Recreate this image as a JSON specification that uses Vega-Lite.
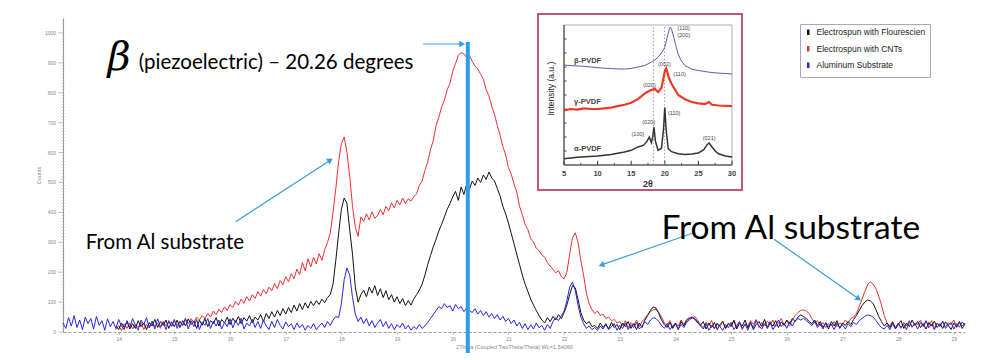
{
  "$schema": "https://vega.github.io/schema/vega-lite/v6.json",
  "width": 902,
  "height": 314,
  "autosize": {"type": "none"},
  "padding": {"left": 63, "top": 18, "right": 35, "bottom": 28},
  "background": "white",
  "config": {"view": {"stroke": null}, "font": "Liberation Sans"},
  "datasets": {
    "xrd": [
      {"x":13.00,"b":30},{"x":13.05,"b":12},{"x":13.10,"b":48},{"x":13.15,"b":20},{"x":13.20,"b":55},{"x":13.25,"b":15},{"x":13.30,"b":40},{"x":13.35,"b":8},{"x":13.40,"b":50},{"x":13.45,"b":28},{"x":13.50,"b":45},{"x":13.55,"b":10},{"x":13.60,"b":52},{"x":13.65,"b":22},{"x":13.70,"b":38},{"x":13.75,"b":6},{"x":13.80,"b":44},{"x":13.85,"b":18},{"x":13.90,"b":35},
      {"x":13.95,"b":12,"k":20,"r":8},{"x":14.00,"b":42,"k":8,"r":22},{"x":14.05,"b":20,"k":30,"r":5},{"x":14.10,"b":8,"k":15,"r":28},{"x":14.15,"b":38,"k":35,"r":12},{"x":14.20,"b":15,"k":10,"r":30},{"x":14.25,"b":45,"k":28,"r":10},{"x":14.30,"b":22,"k":12,"r":25},{"x":14.35,"b":6,"k":38,"r":15},{"x":14.40,"b":40,"k":18,"r":32},{"x":14.45,"b":25,"k":30,"r":8},{"x":14.50,"b":48,"k":8,"r":26},{"x":14.55,"b":14,"k":32,"r":14},{"x":14.60,"b":36,"k":20,"r":35},{"x":14.65,"b":10,"k":42,"r":18},{"x":14.70,"b":44,"k":15,"r":30},{"x":14.75,"b":18,"k":35,"r":12},{"x":14.80,"b":32,"k":22,"r":36},{"x":14.85,"b":8,"k":40,"r":20},{"x":14.90,"b":38,"k":12,"r":34},{"x":14.95,"b":20,"k":34,"r":18},
      {"x":15.00,"b":42,"k":18,"r":38},{"x":15.05,"b":12,"k":40,"r":22},{"x":15.10,"b":35,"k":15,"r":36},{"x":15.15,"b":24,"k":38,"r":20},{"x":15.20,"b":46,"k":20,"r":42},{"x":15.25,"b":10,"k":44,"r":28},{"x":15.30,"b":38,"k":25,"r":45},{"x":15.35,"b":18,"k":36,"r":32},{"x":15.40,"b":42,"k":12,"r":50},{"x":15.45,"b":8,"k":40,"r":40},{"x":15.50,"b":34,"k":22,"r":55},{"x":15.55,"b":22,"k":45,"r":45},{"x":15.60,"b":45,"k":18,"r":62},{"x":15.65,"b":12,"k":38,"r":50},{"x":15.70,"b":36,"k":28,"r":70},{"x":15.75,"b":20,"k":48,"r":58},{"x":15.80,"b":40,"k":20,"r":76},{"x":15.85,"b":10,"k":42,"r":65},{"x":15.90,"b":32,"k":30,"r":84},{"x":15.95,"b":18,"k":50,"r":72},
      {"x":16.00,"b":44,"k":25,"r":92},{"x":16.05,"b":14,"k":46,"r":82},{"x":16.10,"b":38,"k":32,"r":102},{"x":16.15,"b":22,"k":52,"r":90},{"x":16.20,"b":46,"k":28,"r":110},{"x":16.25,"b":10,"k":48,"r":96},{"x":16.30,"b":30,"k":36,"r":118},{"x":16.35,"b":20,"k":55,"r":104},{"x":16.40,"b":42,"k":30,"r":125},{"x":16.45,"b":15,"k":50,"r":112},
      {"x":16.50,"b":35,"k":40,"r":135},{"x":16.55,"b":12,"k":58,"r":120},{"x":16.60,"b":40,"k":35,"r":142},{"x":16.65,"b":20,"k":62,"r":128},{"x":16.70,"b":8,"k":45,"r":150},{"x":16.75,"b":36,"k":68,"r":138},{"x":16.80,"b":15,"k":50,"r":162},{"x":16.85,"b":42,"k":72,"r":145},{"x":16.90,"b":22,"k":55,"r":172},{"x":16.95,"b":10,"k":78,"r":158},
      {"x":17.00,"b":34,"k":60,"r":185},{"x":17.05,"b":18,"k":82,"r":168},{"x":17.10,"b":28,"k":65,"r":195},{"x":17.15,"b":8,"k":90,"r":178},{"x":17.20,"b":30,"k":70,"r":210},{"x":17.25,"b":14,"k":95,"r":192},{"x":17.30,"b":25,"k":75,"r":232},{"x":17.35,"b":6,"k":98,"r":205},{"x":17.40,"b":22,"k":80,"r":245},{"x":17.45,"b":12,"k":102,"r":218},{"x":17.50,"b":28,"k":88,"r":250},{"x":17.55,"b":8,"k":105,"r":228},{"x":17.60,"b":20,"k":92,"r":262},{"x":17.65,"b":30,"k":110,"r":240},{"x":17.70,"b":15,"k":98,"r":275},{"x":17.75,"b":35,"k":115,"r":300},{"x":17.80,"b":22,"k":125,"r":330},{"x":17.85,"b":40,"k":160,"r":400},{"x":17.90,"b":52,"k":240,"r":480},{"x":17.95,"b":48,"k":330,"r":570},
      {"x":18.00,"b":95,"k":410,"r":630},{"x":18.05,"b":175,"k":448,"r":652},{"x":18.10,"b":214,"k":430,"r":600},{"x":18.15,"b":190,"k":340,"r":520},{"x":18.20,"b":115,"k":260,"r":420},{"x":18.25,"b":60,"k":150,"r":350},{"x":18.30,"b":35,"k":100,"r":320},{"x":18.35,"b":50,"k":125,"r":385},{"x":18.40,"b":28,"k":140,"r":370},{"x":18.45,"b":45,"k":118,"r":395},{"x":18.50,"b":20,"k":150,"r":375},{"x":18.55,"b":38,"k":130,"r":402},{"x":18.60,"b":15,"k":155,"r":380},{"x":18.65,"b":30,"k":122,"r":390},{"x":18.70,"b":42,"k":145,"r":410},{"x":18.75,"b":18,"k":115,"r":392},{"x":18.80,"b":35,"k":138,"r":420},{"x":18.85,"b":12,"k":108,"r":405},{"x":18.90,"b":28,"k":125,"r":432},{"x":18.95,"b":8,"k":100,"r":415},
      {"x":19.00,"b":25,"k":118,"r":440},{"x":19.05,"b":15,"k":95,"r":425},{"x":19.10,"b":30,"k":112,"r":448},{"x":19.15,"b":10,"k":88,"r":430},{"x":19.20,"b":22,"k":105,"r":445},{"x":19.25,"b":6,"k":90,"r":438},{"x":19.30,"b":18,"k":110,"r":452},{"x":19.35,"b":10,"k":125,"r":462},{"x":19.40,"b":25,"k":140,"r":490},{"x":19.45,"b":12,"k":160,"r":505},{"x":19.50,"b":20,"k":190,"r":540},{"x":19.55,"b":32,"k":225,"r":568},{"x":19.60,"b":45,"k":255,"r":610},{"x":19.65,"b":58,"k":285,"r":640},{"x":19.70,"b":72,"k":310,"r":690},{"x":19.75,"b":85,"k":338,"r":718},{"x":19.80,"b":78,"k":360,"r":752},{"x":19.85,"b":95,"k":385,"r":775},{"x":19.90,"b":82,"k":410,"r":810},{"x":19.95,"b":88,"k":430,"r":832},
      {"x":20.00,"b":70,"k":452,"r":872},{"x":20.05,"b":92,"k":470,"r":898},{"x":20.10,"b":78,"k":440,"r":925},{"x":20.15,"b":85,"k":485,"r":935},{"x":20.20,"b":68,"k":460,"r":930},{"x":20.25,"b":80,"k":495,"r":918},{"x":20.30,"b":72,"k":478,"r":925},{"x":20.35,"b":65,"k":505,"r":905},{"x":20.40,"b":78,"k":490,"r":890},{"x":20.45,"b":60,"k":515,"r":880},{"x":20.50,"b":72,"k":500,"r":862},{"x":20.55,"b":55,"k":525,"r":845},{"x":20.60,"b":68,"k":510,"r":810},{"x":20.65,"b":50,"k":535,"r":790},{"x":20.70,"b":62,"k":515,"r":755},{"x":20.75,"b":45,"k":505,"r":728},{"x":20.80,"b":58,"k":480,"r":690},{"x":20.85,"b":40,"k":455,"r":658},{"x":20.90,"b":52,"k":420,"r":620},{"x":20.95,"b":35,"k":395,"r":592},
      {"x":21.00,"b":45,"k":365,"r":550},{"x":21.05,"b":28,"k":330,"r":528},{"x":21.10,"b":40,"k":295,"r":495},{"x":21.15,"b":20,"k":260,"r":468},{"x":21.20,"b":32,"k":225,"r":420},{"x":21.25,"b":12,"k":190,"r":392},{"x":21.30,"b":28,"k":160,"r":360},{"x":21.35,"b":8,"k":135,"r":342},{"x":21.40,"b":24,"k":110,"r":312},{"x":21.45,"b":10,"k":90,"r":300},{"x":21.50,"b":30,"k":72,"r":280},{"x":21.55,"b":14,"k":55,"r":272},{"x":21.60,"b":22,"k":40,"r":258},{"x":21.65,"b":6,"k":30,"r":250},{"x":21.70,"b":25,"k":48,"r":232},{"x":21.75,"b":12,"k":35,"r":220},{"x":21.80,"b":35,"k":52,"r":210},{"x":21.85,"b":48,"k":40,"r":198},{"x":21.90,"b":38,"k":58,"r":205},{"x":21.95,"b":55,"k":45,"r":185},
      {"x":22.00,"b":70,"k":65,"r":178},{"x":22.05,"b":105,"k":90,"r":200},{"x":22.10,"b":150,"k":125,"r":260},{"x":22.15,"b":167,"k":155,"r":315},{"x":22.20,"b":140,"k":148,"r":332},{"x":22.25,"b":90,"k":110,"r":300},{"x":22.30,"b":50,"k":65,"r":240},{"x":22.35,"b":28,"k":40,"r":190},{"x":22.40,"b":12,"k":28,"r":130},{"x":22.45,"b":20,"k":35,"r":95},{"x":22.50,"b":8,"k":18,"r":75},
      {"x":22.55,"b":15,"k":22,"r":62},{"x":22.60,"b":5,"k":12,"r":70},{"x":22.65,"b":20,"k":30,"r":55},{"x":22.70,"b":10,"k":15,"r":60},{"x":22.75,"b":25,"k":28,"r":45},{"x":22.80,"b":8,"k":10,"r":50},{"x":22.85,"b":18,"k":32,"r":38},{"x":22.90,"b":28,"k":15,"r":42},{"x":22.95,"b":6,"k":25,"r":30},
      {"x":23.00,"b":22,"k":8,"r":35},{"x":23.05,"b":12,"k":30,"r":20},{"x":23.10,"b":30,"k":18,"r":38},{"x":23.15,"b":8,"k":35,"r":15},{"x":23.20,"b":25,"k":12,"r":32},{"x":23.25,"b":15,"k":28,"r":22},{"x":23.30,"b":32,"k":8,"r":40},{"x":23.35,"b":10,"k":30,"r":18},{"x":23.40,"b":20,"k":15,"r":35},{"x":23.45,"b":35,"k":40,"r":45},{"x":23.50,"b":25,"k":55,"r":58},{"x":23.55,"b":40,"k":72,"r":68},{"x":23.60,"b":48,"k":84,"r":74},{"x":23.65,"b":45,"k":80,"r":76},{"x":23.70,"b":35,"k":62,"r":65},{"x":23.75,"b":22,"k":40,"r":50},{"x":23.80,"b":12,"k":25,"r":30},{"x":23.85,"b":28,"k":15,"r":22},{"x":23.90,"b":8,"k":32,"r":38},{"x":23.95,"b":20,"k":12,"r":15},
      {"x":24.00,"b":30,"k":28,"r":30},{"x":24.05,"b":10,"k":8,"r":20},{"x":24.10,"b":25,"k":35,"r":40},{"x":24.15,"b":15,"k":20,"r":25},{"x":24.20,"b":32,"k":38,"r":42},{"x":24.25,"b":40,"k":45,"r":48},{"x":24.30,"b":48,"k":50,"r":45},{"x":24.35,"b":44,"k":42,"r":52},{"x":24.40,"b":35,"k":30,"r":38},{"x":24.45,"b":20,"k":22,"r":25},{"x":24.50,"b":10,"k":35,"r":15},{"x":24.55,"b":28,"k":10,"r":32},{"x":24.60,"b":6,"k":30,"r":22},{"x":24.65,"b":22,"k":15,"r":38},{"x":24.70,"b":12,"k":32,"r":10},{"x":24.75,"b":30,"k":8,"r":28},{"x":24.80,"b":18,"k":25,"r":18},{"x":24.85,"b":5,"k":35,"r":35},{"x":24.90,"b":25,"k":12,"r":12},{"x":24.95,"b":14,"k":28,"r":30},
      {"x":25.00,"b":32,"k":18,"r":22},{"x":25.05,"b":8,"k":38,"r":40},{"x":25.10,"b":22,"k":10,"r":15},{"x":25.15,"b":35,"k":30,"r":32},{"x":25.20,"b":12,"k":20,"r":8},{"x":25.25,"b":26,"k":40,"r":28},{"x":25.30,"b":6,"k":14,"r":20},{"x":25.35,"b":30,"k":32,"r":38},{"x":25.40,"b":15,"k":8,"r":25},{"x":25.45,"b":38,"k":25,"r":42},{"x":25.50,"b":20,"k":35,"r":15},{"x":25.55,"b":10,"k":18,"r":32},{"x":25.60,"b":28,"k":42,"r":20},{"x":25.65,"b":16,"k":12,"r":36},{"x":25.70,"b":35,"k":30,"r":24},{"x":25.75,"b":8,"k":20,"r":40},{"x":25.80,"b":24,"k":38,"r":18},{"x":25.85,"b":40,"k":15,"r":30},{"x":25.90,"b":18,"k":34,"r":45},{"x":25.95,"b":30,"k":22,"r":25},
      {"x":26.00,"b":12,"k":40,"r":38},{"x":26.05,"b":34,"k":28,"r":20},{"x":26.10,"b":20,"k":45,"r":42},{"x":26.15,"b":38,"k":35,"r":55},{"x":26.20,"b":45,"k":50,"r":65},{"x":26.25,"b":40,"k":57,"r":72},{"x":26.30,"b":46,"k":52,"r":74},{"x":26.35,"b":38,"k":45,"r":70},{"x":26.40,"b":30,"k":35,"r":62},{"x":26.45,"b":22,"k":28,"r":45},{"x":26.50,"b":35,"k":40,"r":30},{"x":26.55,"b":15,"k":22,"r":38},{"x":26.60,"b":28,"k":35,"r":20},{"x":26.65,"b":10,"k":15,"r":32},{"x":26.70,"b":32,"k":30,"r":15},{"x":26.75,"b":18,"k":10,"r":28},{"x":26.80,"b":26,"k":35,"r":22},{"x":26.85,"b":8,"k":20,"r":35},{"x":26.90,"b":30,"k":38,"r":18},{"x":26.95,"b":14,"k":12,"r":30},
      {"x":27.00,"b":24,"k":30,"r":25},{"x":27.05,"b":10,"k":22,"r":40},{"x":27.10,"b":28,"k":35,"r":30},{"x":27.15,"b":18,"k":25,"r":45},{"x":27.20,"b":32,"k":42,"r":50},{"x":27.25,"b":25,"k":55,"r":62},{"x":27.30,"b":38,"k":72,"r":85},{"x":27.35,"b":45,"k":88,"r":110},{"x":27.40,"b":52,"k":100,"r":135},{"x":27.45,"b":57,"k":107,"r":158},{"x":27.50,"b":55,"k":104,"r":168},{"x":27.55,"b":50,"k":95,"r":160},{"x":27.60,"b":38,"k":75,"r":145},{"x":27.65,"b":25,"k":52,"r":120},{"x":27.70,"b":15,"k":35,"r":90},{"x":27.75,"b":10,"k":20,"r":55},{"x":27.80,"b":22,"k":30,"r":30},{"x":27.85,"b":8,"k":15,"r":20},{"x":27.90,"b":28,"k":32,"r":35},{"x":27.95,"b":12,"k":10,"r":15},
      {"x":28.00,"b":30,"k":25,"r":28},{"x":28.05,"b":15,"k":38,"r":12},{"x":28.10,"b":25,"k":12,"r":32},{"x":28.15,"b":8,"k":30,"r":20},{"x":28.20,"b":35,"k":18,"r":38},{"x":28.25,"b":18,"k":40,"r":15},{"x":28.30,"b":28,"k":22,"r":30},{"x":28.35,"b":10,"k":35,"r":25},{"x":28.40,"b":32,"k":15,"r":40},{"x":28.45,"b":20,"k":28,"r":18},{"x":28.50,"b":38,"k":10,"r":35},{"x":28.55,"b":14,"k":32,"r":22},{"x":28.60,"b":26,"k":20,"r":38},{"x":28.65,"b":8,"k":36,"r":12},{"x":28.70,"b":30,"k":15,"r":30},{"x":28.75,"b":18,"k":28,"r":20},{"x":28.80,"b":36,"k":12,"r":35},{"x":28.85,"b":12,"k":34,"r":18},{"x":28.90,"b":24,"k":22,"r":30},{"x":28.95,"b":32,"k":8,"r":25},
      {"x":29.00,"b":10,"k":30,"r":40},{"x":29.05,"b":28,"k":18,"r":15},{"x":29.10,"b":16,"k":35,"r":32},{"x":29.15,"b":34,"k":12,"r":20},{"x":29.20,"b":22,"k":28,"r":30}
    ],
    "yMinor": [
      {"v":10},{"v":20},{"v":30},{"v":40},{"v":50},{"v":60},{"v":70},{"v":80},{"v":90},
      {"v":110},{"v":120},{"v":130},{"v":140},{"v":150},{"v":160},{"v":170},{"v":180},{"v":190},
      {"v":210},{"v":220},{"v":230},{"v":240},{"v":250},{"v":260},{"v":270},{"v":280},{"v":290},
      {"v":310},{"v":320},{"v":330},{"v":340},{"v":350},{"v":360},{"v":370},{"v":380},{"v":390},
      {"v":410},{"v":420},{"v":430},{"v":440},{"v":450},{"v":460},{"v":470},{"v":480},{"v":490},
      {"v":510},{"v":520},{"v":530},{"v":540},{"v":550},{"v":560},{"v":570},{"v":580},{"v":590},
      {"v":610},{"v":620},{"v":630},{"v":640},{"v":650},{"v":660},{"v":670},{"v":680},{"v":690},
      {"v":710},{"v":720},{"v":730},{"v":740},{"v":750},{"v":760},{"v":770},{"v":780},{"v":790},
      {"v":810},{"v":820},{"v":830},{"v":840},{"v":850},{"v":860},{"v":870},{"v":880},{"v":890},
      {"v":910},{"v":920},{"v":930},{"v":940},{"v":950},{"v":960},{"v":970},{"v":980},{"v":990},
      {"v":1010},{"v":1020},{"v":1030},{"v":1040}
    ],
    "yMajor": [{"v":0},{"v":100},{"v":200},{"v":300},{"v":400},{"v":500},{"v":600},{"v":700},{"v":800},{"v":900},{"v":1000}],
    "arrows": [
      {"x":19.47,"y":963,"x2":20.15,"y2":963},
      {"x":16.10,"y":369,"x2":17.78,"y2":572},
      {"x":24.33,"y":332,"x2":22.70,"y2":226},
      {"x":25.77,"y":310,"x2":27.27,"y2":114}
    ],
    "insetBeta": [
      {"x":5,"y":71.4},{"x":6,"y":71},{"x":8,"y":70.5},{"x":10,"y":69.5},{"x":12,"y":68.8},{"x":14,"y":68.5},{"x":15,"y":69},{"x":16,"y":70},{"x":17,"y":71},{"x":18,"y":73.5},{"x":18.5,"y":75},{"x":19,"y":77},{"x":19.5,"y":80},{"x":20,"y":84},{"x":20.3,"y":90},{"x":20.6,"y":96},{"x":20.8,"y":98.5},{"x":21,"y":97},{"x":21.3,"y":92},{"x":21.6,"y":86},{"x":22,"y":79},{"x":22.5,"y":74},{"x":23,"y":71},{"x":24,"y":68.5},{"x":25,"y":67.5},{"x":27,"y":66},{"x":30,"y":65}
    ],
    "insetGamma": [
      {"x":5,"y":39},{"x":6,"y":40},{"x":7,"y":39.5},{"x":8,"y":40.5},{"x":9,"y":40},{"x":10,"y":40},{"x":11,"y":40.5},{"x":12,"y":41},{"x":13,"y":42},{"x":14,"y":43},{"x":15,"y":44.5},{"x":16,"y":47},{"x":17,"y":51},{"x":17.5,"y":52.5},{"x":18,"y":53.6},{"x":18.5,"y":54.5},{"x":19,"y":52},{"x":19.5,"y":55},{"x":19.8,"y":62},{"x":20,"y":67},{"x":20.2,"y":69},{"x":20.4,"y":66},{"x":20.7,"y":61},{"x":21,"y":58},{"x":21.5,"y":54},{"x":22,"y":50},{"x":23,"y":47},{"x":24,"y":45},{"x":25,"y":44},{"x":26,"y":43.5},{"x":26.6,"y":45},{"x":27,"y":43},{"x":28,"y":42.5},{"x":30,"y":42}
    ],
    "insetAlpha": [
      {"x":5,"y":4.5},{"x":7,"y":5.5},{"x":10,"y":6.4},{"x":12,"y":7.5},{"x":14,"y":9.3},{"x":15,"y":10.5},{"x":16,"y":12.9},{"x":16.8,"y":14},{"x":17.3,"y":16.5},{"x":17.7,"y":20},{"x":18,"y":16},{"x":18.2,"y":20},{"x":18.4,"y":27},{"x":18.6,"y":17},{"x":19,"y":10.5},{"x":19.5,"y":12},{"x":19.8,"y":25},{"x":20,"y":41},{"x":20.2,"y":25},{"x":20.5,"y":11.7},{"x":21,"y":9.5},{"x":22,"y":8},{"x":23,"y":7.5},{"x":24,"y":7.8},{"x":25,"y":8.6},{"x":25.8,"y":11},{"x":26.3,"y":14.5},{"x":26.6,"y":15.7},{"x":27,"y":13},{"x":27.5,"y":10},{"x":28,"y":8},{"x":29,"y":6.5},{"x":30,"y":5.7}
    ],
    "insetLabels": [
      {"x":6.5,"y":74,"t":"β-PVDF"},{"x":6.5,"y":45,"t":"γ-PVDF"},{"x":6.5,"y":11.6,"t":"α-PVDF"}
    ],
    "peakLabels": [
      {"x":22.8,"y":98,"t":"(110)"},{"x":22.8,"y":93,"t":"(200)"},{"x":19.95,"y":72,"t":"(002)"},{"x":22.2,"y":65,"t":"(110)"},{"x":17.7,"y":57,"t":"(020)"},{"x":16.0,"y":22,"t":"(100)"},{"x":17.6,"y":31,"t":"(020)"},{"x":21.4,"y":37,"t":"(110)"},{"x":26.6,"y":19,"t":"(021)"}
    ],
    "dotted": [{"x":18.3},{"x":19.95}],
    "insetXTicks": [{"v":5},{"v":10},{"v":15},{"v":20},{"v":25},{"v":30}],
    "insetXMinor": [{"v":7.5},{"v":12.5},{"v":17.5},{"v":22.5},{"v":27.5}],
    "insetYTicks": [{"v":10},{"v":20},{"v":30},{"v":40},{"v":50},{"v":60},{"v":70},{"v":80},{"v":90}]
  },
  "layer": [
    {
      "layer": [
        {
          "data": {"name": "yMinor"},
          "mark": {"type": "tick", "orient": "horizontal", "size": 3, "thickness": 0.6, "color": "#aaa", "opacity": 1},
          "encoding": {
            "x": {"datum": 13, "type": "quantitative", "title": "2Theta (Coupled TwoTheta/Theta) WL=1.54060",
              "scale": {"domain": [13, 29.2], "nice": false, "zero": false},
              "axis": {"orient": "bottom", "values": [14,15,16,17,18,19,20,21,22,23,24,25,26,27,28,29], "format": "d", "grid": false, "labelFontSize": 5, "labelColor": "#888", "labelPadding": 2, "tickSize": 2, "tickColor": "#aaa", "domainColor": "#999", "domainDash": [3, 2], "titleFontSize": 5.5, "titleColor": "#888", "titleFontWeight": "normal", "titlePadding": 3}},
            "y": {"field": "v", "type": "quantitative", "title": "Counts",
              "scale": {"domain": [0, 1050], "nice": false},
              "axis": {"grid": false, "labels": false, "ticks": false, "domainColor": "#999",
                "titleFontSize": 5.5, "titleColor": "#888", "titleFontWeight": "normal", "titlePadding": 22}}
          }
        },
        {
          "data": {"name": "yMajor"},
          "mark": {"type": "rule", "color": "#aaa", "strokeWidth": 0.8},
          "encoding": {"x": {"datum": 13, "type": "quantitative"}, "x2": {"datum": 12.92}, "y": {"field": "v", "type": "quantitative", "title": "Counts"}}
        },
        {
          "data": {"name": "yMajor"},
          "mark": {"type": "text", "align": "right", "baseline": "middle", "dx": -7, "fontSize": 5, "color": "#888", "font": "Liberation Sans"},
          "encoding": {"x": {"datum": 13, "type": "quantitative"}, "y": {"field": "v", "type": "quantitative", "title": "Counts"}, "text": {"field": "v", "type": "quantitative", "format": "d"}}
        },
        {
          "data": {"name": "xrd"},
          "mark": {"type": "line", "strokeWidth": 1},
          "encoding": {
            "x": {"field": "x", "type": "quantitative", "title": "2Theta (Coupled TwoTheta/Theta) WL=1.54060"},
            "y": {"field": "r", "type": "quantitative", "title": "Counts"},
            "color": {"datum": "Electrospun with CNTs", "type": "nominal",
              "scale": {"domain": ["Electrospun with Flourescien", "Electrospun with CNTs", "Aluminum Substrate"], "range": ["#111111", "#ee3030", "#2626e0"]},
              "legend": {"orient": "none", "legendX": 737, "legendY": 6, "title": null, "strokeColor": "#a4a8c4", "fillColor": "white", "padding": 4, "labelFontSize": 8.5, "labelColor": "#222", "labelFont": "Liberation Sans", "rowPadding": 0.5, "labelOffset": 4, "symbolType": "M0,-1L0,1", "symbolSize": 30, "symbolStrokeWidth": 2.5}}
          }
        },
        {
          "data": {"name": "xrd"},
          "mark": {"type": "line", "strokeWidth": 1},
          "encoding": {
            "x": {"field": "x", "type": "quantitative", "title": "2Theta (Coupled TwoTheta/Theta) WL=1.54060"},
            "y": {"field": "k", "type": "quantitative", "title": "Counts"},
            "color": {"datum": "Electrospun with Flourescien", "type": "nominal"}
          }
        },
        {
          "data": {"name": "xrd"},
          "mark": {"type": "line", "strokeWidth": 1},
          "encoding": {
            "x": {"field": "x", "type": "quantitative", "title": "2Theta (Coupled TwoTheta/Theta) WL=1.54060"},
            "y": {"field": "b", "type": "quantitative", "title": "Counts"},
            "color": {"datum": "Aluminum Substrate", "type": "nominal"}
          }
        },
        {
          "data": {"values": [{}]},
          "mark": {"type": "rule", "color": "#2e9de8", "strokeWidth": 4},
          "encoding": {"x": {"datum": 20.27, "type": "quantitative"}, "y": {"datum": 970, "type": "quantitative"}, "y2": {"datum": -70}}
        },
        {
          "data": {"name": "arrows"},
          "mark": {"type": "rule", "color": "#3a9de0", "strokeWidth": 1.2},
          "encoding": {"x": {"field": "x", "type": "quantitative"}, "y": {"field": "y", "type": "quantitative"}, "x2": {"field": "x2"}, "y2": {"field": "y2"}}
        },
        {
          "data": {"values": [{}]},
          "mark": {"type": "point", "shape": "triangle-right", "filled": true, "size": 45, "angle": 0, "color": "#3a9de0", "opacity": 1},
          "encoding": {"x": {"datum": 20.17, "type": "quantitative"}, "y": {"datum": 963, "type": "quantitative"}}
        },
        {
          "data": {"values": [{}]},
          "mark": {"type": "point", "shape": "triangle-right", "filled": true, "size": 45, "angle": 327, "color": "#3a9de0", "opacity": 1},
          "encoding": {"x": {"datum": 17.80, "type": "quantitative"}, "y": {"datum": 575, "type": "quantitative"}}
        },
        {
          "data": {"values": [{}]},
          "mark": {"type": "point", "shape": "triangle-right", "filled": true, "size": 45, "angle": 161, "color": "#3a9de0", "opacity": 1},
          "encoding": {"x": {"datum": 22.67, "type": "quantitative"}, "y": {"datum": 224, "type": "quantitative"}}
        },
        {
          "data": {"values": [{}]},
          "mark": {"type": "point", "shape": "triangle-right", "filled": true, "size": 45, "angle": 35, "color": "#3a9de0", "opacity": 1},
          "encoding": {"x": {"datum": 27.29, "type": "quantitative"}, "y": {"datum": 111, "type": "quantitative"}}
        },
        {
          "data": {"values": [{}]},
          "mark": {"type": "text", "text": "β", "font": "DejaVu Serif", "fontStyle": "italic", "fontSize": 40, "align": "left", "baseline": "alphabetic", "color": "#000"},
          "encoding": {"x": {"datum": 13.8, "type": "quantitative"}, "y": {"datum": 876, "type": "quantitative"}}
        },
        {
          "data": {"values": [{}]},
          "mark": {"type": "text", "text": "(piezoelectric) – 20.26 degrees", "font": "Lato", "fontSize": 20.5, "align": "left", "baseline": "alphabetic", "color": "#000"},
          "encoding": {"x": {"datum": 14.36, "type": "quantitative"}, "y": {"datum": 880, "type": "quantitative"}}
        },
        {
          "data": {"values": [{}]},
          "mark": {"type": "text", "text": "From Al substrate", "font": "Lato", "fontSize": 20.5, "align": "left", "baseline": "alphabetic", "color": "#000"},
          "encoding": {"x": {"datum": 13.41, "type": "quantitative"}, "y": {"datum": 278, "type": "quantitative"}}
        },
        {
          "data": {"values": [{}]},
          "mark": {"type": "text", "text": "From Al substrate", "font": "Lato", "fontSize": 33.5, "align": "left", "baseline": "alphabetic", "color": "#000"},
          "encoding": {"x": {"datum": 23.75, "type": "quantitative"}, "y": {"datum": 310, "type": "quantitative"}}
        }
      ]
    },
    {
      "layer": [
        {
          "data": {"values": [{}]},
          "mark": {"type": "rect", "fill": "white", "stroke": "#c8517b", "strokeWidth": 2},
          "encoding": {
            "x": {"datum": 1.13, "type": "quantitative", "scale": {"domain": [5, 30], "range": [501, 669], "nice": false, "zero": false}, "axis": null},
            "x2": {"datum": 31.49},
            "y": {"datum": -17.9, "type": "quantitative", "scale": {"domain": [0, 100], "range": [147, 7], "nice": false, "zero": false}, "axis": null},
            "y2": {"datum": 107.9}
          }
        },
        {
          "data": {"values": [{}]},
          "mark": {"type": "rect", "fill": null, "stroke": "#999", "strokeWidth": 0.8},
          "encoding": {"x": {"datum": 5, "type": "quantitative", "axis": null}, "x2": {"datum": 30}, "y": {"datum": 0, "type": "quantitative", "axis": null}, "y2": {"datum": 100}}
        },
        {
          "data": {"values": [{}]},
          "mark": {"type": "rule", "color": "#333", "strokeWidth": 1},
          "encoding": {"x": {"datum": 5, "type": "quantitative", "axis": null}, "x2": {"datum": 30}, "y": {"datum": 0, "type": "quantitative", "axis": null}}
        },
        {
          "data": {"values": [{}]},
          "mark": {"type": "rule", "color": "#333", "strokeWidth": 1},
          "encoding": {"x": {"datum": 5, "type": "quantitative", "axis": null}, "y": {"datum": 0, "type": "quantitative", "axis": null}, "y2": {"datum": 100}}
        },
        {
          "data": {"name": "insetXTicks"},
          "mark": {"type": "rule", "color": "#333", "strokeWidth": 1},
          "encoding": {"x": {"field": "v", "type": "quantitative", "axis": null}, "y": {"datum": 0, "type": "quantitative", "axis": null}, "y2": {"datum": 3}}
        },
        {
          "data": {"name": "insetXMinor"},
          "mark": {"type": "rule", "color": "#333", "strokeWidth": 0.8},
          "encoding": {"x": {"field": "v", "type": "quantitative", "axis": null}, "y": {"datum": 0, "type": "quantitative", "axis": null}, "y2": {"datum": 1.6}}
        },
        {
          "data": {"name": "insetYTicks"},
          "mark": {"type": "rule", "color": "#333", "strokeWidth": 0.8},
          "encoding": {"x": {"datum": 5, "type": "quantitative", "axis": null}, "x2": {"datum": 5.4}, "y": {"field": "v", "type": "quantitative", "axis": null}}
        },
        {
          "data": {"name": "insetXTicks"},
          "mark": {"type": "text", "align": "center", "baseline": "middle", "fontSize": 7.5, "fontWeight": "bold", "color": "#444", "font": "Liberation Sans"},
          "encoding": {"x": {"field": "v", "type": "quantitative", "axis": null}, "y": {"datum": -6.6, "type": "quantitative", "axis": null}, "text": {"field": "v", "type": "quantitative"}}
        },
        {
          "data": {"values": [{}]},
          "mark": {"type": "text", "text": "2θ", "align": "center", "baseline": "middle", "fontSize": 9, "fontWeight": "bold", "color": "#333", "font": "Liberation Sans"},
          "encoding": {"x": {"datum": 17.5, "type": "quantitative", "axis": null}, "y": {"datum": -13.8, "type": "quantitative", "axis": null}}
        },
        {
          "data": {"values": [{}]},
          "mark": {"type": "text", "text": "Intensity (a.u.)", "angle": 270, "align": "center", "baseline": "middle", "fontSize": 8.5, "color": "#222", "font": "Liberation Sans"},
          "encoding": {"x": {"datum": 3.1, "type": "quantitative", "axis": null}, "y": {"datum": 54.5, "type": "quantitative", "axis": null}}
        },
        {
          "data": {"name": "dotted"},
          "mark": {"type": "rule", "color": "#888", "strokeWidth": 0.8, "strokeDash": [1.5, 2]},
          "encoding": {"x": {"field": "x", "type": "quantitative", "axis": null}, "y": {"datum": 0, "type": "quantitative", "axis": null}, "y2": {"datum": 100}}
        },
        {
          "data": {"name": "insetAlpha"},
          "mark": {"type": "line", "color": "#333", "strokeWidth": 1.5},
          "encoding": {"x": {"field": "x", "type": "quantitative", "axis": null}, "y": {"field": "y", "type": "quantitative", "axis": null}}
        },
        {
          "data": {"name": "insetGamma"},
          "mark": {"type": "line", "color": "#ee3a25", "strokeWidth": 2.2},
          "encoding": {"x": {"field": "x", "type": "quantitative", "axis": null}, "y": {"field": "y", "type": "quantitative", "axis": null}}
        },
        {
          "data": {"name": "insetBeta"},
          "mark": {"type": "line", "color": "#5a5ab8", "strokeWidth": 1},
          "encoding": {"x": {"field": "x", "type": "quantitative", "axis": null}, "y": {"field": "y", "type": "quantitative", "axis": null}}
        },
        {
          "data": {"name": "insetLabels"},
          "mark": {"type": "text", "align": "left", "baseline": "middle", "fontSize": 7.5, "fontWeight": "bold", "color": "#444", "font": "Liberation Sans"},
          "encoding": {"x": {"field": "x", "type": "quantitative", "axis": null}, "y": {"field": "y", "type": "quantitative", "axis": null}, "text": {"field": "t"}}
        },
        {
          "data": {"name": "peakLabels"},
          "mark": {"type": "text", "align": "center", "baseline": "middle", "fontSize": 5.5, "color": "#444", "font": "Liberation Sans"},
          "encoding": {"x": {"field": "x", "type": "quantitative", "axis": null}, "y": {"field": "y", "type": "quantitative", "axis": null}, "text": {"field": "t"}}
        }
      ]
    }
  ],
  "resolve": {"scale": {"x": "independent", "y": "independent"}}
}
